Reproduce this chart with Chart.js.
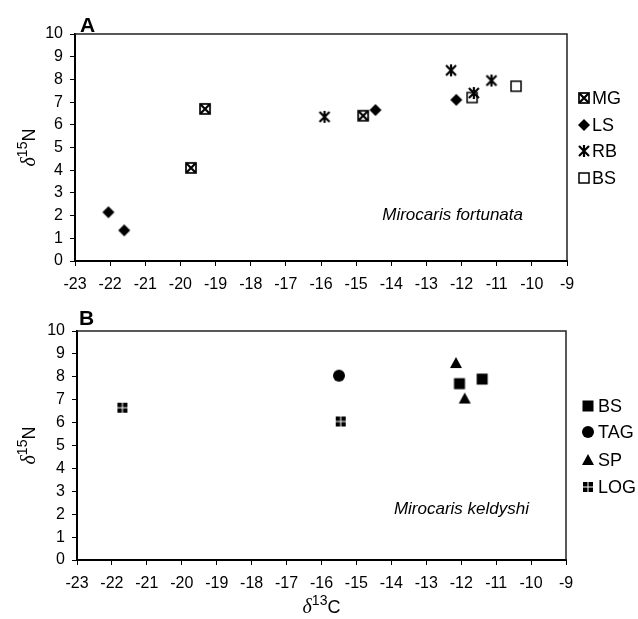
<!DOCTYPE html>
<html><head><meta charset="utf-8">
<script src="https://cdn.jsdelivr.net/npm/chart.js@4/dist/chart.umd.min.js"></script>
<style>
body{margin:0;background:#fff;}
#wa{position:absolute;left:0;top:0;width:638px;height:300px;}
#wb{position:absolute;left:0;top:300px;width:638px;height:319px;}
</style></head>
<body>
<div id="wa"><canvas id="ca" width="638" height="300"></canvas></div>
<div id="wb"><canvas id="cb" width="638" height="319"></canvas></div>
<script>
// ---- axis ranges ----
const xRange = [-23, -9];
const yRange = [0, 10];
// ---- Panel A: Mirocaris fortunata ----
const seriesA = ['MG', 'LS', 'RB', 'BS'];
const MG_x = [-19.7, -19.3, -14.8];
const MG_y = [4.1, 6.7, 6.4];
const LS_x = [-22.05, -21.6, -14.45, -12.15];
const LS_y = [2.15, 1.35, 6.65, 7.1];
const RB_x = [-15.9, -12.3, -11.65, -11.15];
const RB_y = [6.35, 8.4, 7.4, 7.95];
const BSA_x = [-11.7, -10.45];
const BSA_y = [7.2, 7.7];
// ---- Panel B: Mirocaris keldyshi ----
const seriesB = ['BS', 'TAG', 'SP', 'LOG'];
const BSB_x = [-12.05, -11.4];
const BSB_y = [7.7, 7.9];
const TAG_x = [-15.5];
const TAG_y = [8.05];
const SP_x = [-12.15, -11.9];
const SP_y = [8.6, 7.05];
const LOG_x = [-21.7, -15.45];
const LOG_y = [6.65, 6.05];

const SANS = '"Liberation Sans", Arial, sans-serif';
const SERIF = '"Liberation Serif", "Times New Roman", serif';

function marker(kind){
  const c = document.createElement('canvas');
  c.width = 16; c.height = 16;
  const g = c.getContext('2d');
  g.translate(8, 8);
  g.fillStyle = '#000'; g.strokeStyle = '#000';
  if (kind === 'mg') {
    g.fillStyle = '#fff'; g.fillRect(-5, -5, 10, 10);
    g.lineWidth = 1.7; g.strokeRect(-5, -5, 10, 10);
    g.lineWidth = 2.2; g.beginPath();
    g.moveTo(-4.5, -4.5); g.lineTo(4.5, 4.5); g.moveTo(4.5, -4.5); g.lineTo(-4.5, 4.5); g.stroke();
  } else if (kind === 'diamond') {
    g.beginPath(); g.moveTo(0, -6); g.lineTo(6, 0); g.lineTo(0, 6); g.lineTo(-6, 0); g.closePath(); g.fill();
  } else if (kind === 'rb') {
    g.lineWidth = 2.2; g.beginPath();
    g.moveTo(-5, -5); g.lineTo(5, 5); g.moveTo(5, -5); g.lineTo(-5, 5);
    g.moveTo(0, -6); g.lineTo(0, 6); g.stroke();
  } else if (kind === 'sqOpen') {
    g.fillStyle = '#fff'; g.fillRect(-5, -5, 10, 10);
    g.lineWidth = 1.5; g.strokeRect(-5, -5, 10, 10);
  } else if (kind === 'sqFill') {
    g.fillRect(-5.5, -5.5, 11, 11);
  } else if (kind === 'circle') {
    g.beginPath(); g.arc(0, 0, 6, 0, Math.PI * 2); g.fill();
  } else if (kind === 'tri') {
    g.beginPath(); g.moveTo(0, -6); g.lineTo(6, 5); g.lineTo(-6, 5); g.closePath(); g.fill();
  } else if (kind === 'log') {
    g.fillRect(-5, -5, 4.5, 4.5); g.fillRect(0.5, -5, 4.5, 4.5);
    g.fillRect(-5, 0.5, 4.5, 4.5); g.fillRect(0.5, 0.5, 4.5, 4.5);
  }
  return c;
}

function pts(xs, ys){ return xs.map((x, i) => ({x: x, y: ys[i]})); }

function drawRich(ctx, parts, x, y, align, rotate){
  ctx.save();
  ctx.translate(x, y);
  if (rotate) ctx.rotate(-Math.PI / 2);
  let total = 0;
  parts.forEach(p => { ctx.font = p.font; p.w = ctx.measureText(p.t).width; total += p.w; });
  let cx = align === 'center' ? -total / 2 : 0;
  ctx.textBaseline = 'alphabetic'; ctx.textAlign = 'left'; ctx.fillStyle = '#000';
  parts.forEach(p => { ctx.font = p.font; ctx.fillText(p.t, cx, p.dy); cx += p.w; });
  ctx.restore();
}

const decor = {
  id: 'decor',
  afterDraw(chart, args, o){
    const ctx = chart.ctx, a = chart.chartArea;
    ctx.save();
    ctx.strokeStyle = '#222'; ctx.lineWidth = 1.5;
    ctx.beginPath(); ctx.moveTo(a.left, a.top); ctx.lineTo(a.right, a.top); ctx.lineTo(a.right, a.bottom); ctx.stroke();
    ctx.fillStyle = '#000';
    ctx.font = 'bold 21px ' + SANS; ctx.textAlign = 'left'; ctx.textBaseline = 'alphabetic';
    ctx.fillText(o.letter, o.letterX, o.letterY);
    ctx.font = 'italic 17px ' + SANS; ctx.textAlign = 'right';
    ctx.fillText(o.species, o.spX, o.spY);
    // y axis title
    drawRich(ctx, [
      {t: 'δ', font: 'italic 20px ' + SERIF, dy: 0},
      {t: '15', font: '14px ' + SANS, dy: -8},
      {t: 'N', font: '18px ' + SANS, dy: 0}
    ], o.yTitleX, (a.top + a.bottom) / 2, 'center', true);
    if (o.xTitle) {
      drawRich(ctx, [
        {t: 'δ', font: 'italic 20px ' + SERIF, dy: 0},
        {t: '13', font: '14px ' + SANS, dy: -8},
        {t: 'C', font: '18px ' + SANS, dy: 0}
      ], (a.left + a.right) / 2, o.xTitleY, 'center', false);
    }
    // legend
    ctx.font = '18px ' + SANS; ctx.textAlign = 'left'; ctx.textBaseline = 'middle';
    chart.data.datasets.forEach((ds, i) => {
      const yy = o.legRows[i];
      const img = ds.pointStyle;
      ctx.drawImage(img, o.legMX - img.width / 2, yy - img.height / 2);
      ctx.fillText(ds.label, o.legTX, yy + 1);
    });
    ctx.restore();
  }
};

function scales(xH, yW){
  const common = {
    grid: {drawOnChartArea: false, drawTicks: true, tickLength: 5, color: '#000', tickWidth: 1},
    border: {display: true, color: '#000', width: 2},
    ticks: {color: '#000', font: {family: SANS, size: 16}, stepSize: 1}
  };
  return {
    x: Object.assign({}, JSON.parse(JSON.stringify(common)), {
      type: 'linear', min: xRange[0], max: xRange[1],
      ticks: Object.assign({}, common.ticks, {padding: 9, maxRotation: 0}),
      afterFit(s){ s.height = xH; }
    }),
    y: Object.assign({}, JSON.parse(JSON.stringify(common)), {
      type: 'linear', min: yRange[0], max: yRange[1],
      ticks: Object.assign({}, common.ticks, {padding: 7}),
      afterFit(s){ s.width = yW; }
    })
  };
}

function ds(label, xs, ys, kind){
  return {label: label, data: pts(xs, ys), pointStyle: marker(kind), pointRadius: 6, showLine: false};
}

new Chart(document.getElementById('ca'), {
  type: 'scatter',
  data: {datasets: [
    ds(seriesA[0], MG_x, MG_y, 'mg'),
    ds(seriesA[1], LS_x, LS_y, 'diamond'),
    ds(seriesA[2], RB_x, RB_y, 'rb'),
    ds(seriesA[3], BSA_x, BSA_y, 'sqOpen')
  ]},
  options: {
    responsive: false, animation: false,
    layout: {padding: {left: 0, right: 71, top: 34, bottom: 0}},
    scales: scales(39, 75),
    plugins: {
      legend: {display: false}, tooltip: {enabled: false},
      decor: {letter: 'A', letterX: 80, letterY: 32, species: 'Mirocaris fortunata', spX: 523, spY: 220,
        yTitleX: 35, xTitle: false, legMX: 584, legTX: 592, legRows: [98, 125, 151, 178]}
    }
  },
  plugins: [decor]
});

new Chart(document.getElementById('cb'), {
  type: 'scatter',
  data: {datasets: [
    ds(seriesB[0], BSB_x, BSB_y, 'sqFill'),
    ds(seriesB[1], TAG_x, TAG_y, 'circle'),
    ds(seriesB[2], SP_x, SP_y, 'tri'),
    ds(seriesB[3], LOG_x, LOG_y, 'log')
  ]},
  options: {
    responsive: false, animation: false,
    layout: {padding: {left: 0, right: 72, top: 31, bottom: 0}},
    scales: scales(59, 77),
    plugins: {
      legend: {display: false}, tooltip: {enabled: false},
      decor: {letter: 'B', letterX: 79, letterY: 25, species: 'Mirocaris keldyshi', spX: 529, spY: 214,
        yTitleX: 35, xTitle: true, xTitleY: 313, legMX: 588, legTX: 598, legRows: [106, 132, 160, 187]}
    }
  },
  plugins: [decor]
});
</script>
</body></html>
